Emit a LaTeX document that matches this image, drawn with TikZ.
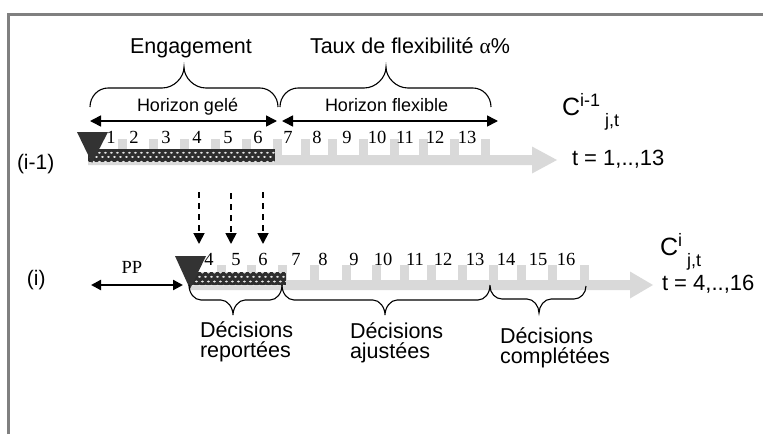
\documentclass[tikz,border=0pt]{standalone}
\usepackage{fontspec}
\setmainfont{Liberation Sans}
\newfontfamily\timesf{Liberation Serif}
\usetikzlibrary{arrows.meta,patterns}
\definecolor{barg}{HTML}{D9D9D9}
\definecolor{trig}{HTML}{333333}
\definecolor{hatchg}{HTML}{2E2E2E}
\definecolor{dotg}{HTML}{E6E6E6}
\definecolor{frameg}{HTML}{808080}
\pgfdeclarepatternformonly{ovaldots}{\pgfpointorigin}{\pgfqpoint{6.4pt}{8.6pt}}{\pgfqpoint{6.4pt}{8.6pt}}{%
  \pgfpathellipse{\pgfqpoint{1.6pt}{2.15pt}}{\pgfqpoint{1.7pt}{0pt}}{\pgfqpoint{0pt}{1.05pt}}%
  \pgfpathellipse{\pgfqpoint{4.8pt}{6.45pt}}{\pgfqpoint{1.7pt}{0pt}}{\pgfqpoint{0pt}{1.05pt}}%
  \pgfusepath{fill}}
\newcommand\mybrace[8]{%
 \draw[bracestyle] (#1,#4) .. controls (#1,{#5+0.45*(#4-#5)}) and ({#1+0.45*#7},#5) .. ({#1+#7},#5)
 -- ({#2-#8},#5) .. controls ({#2-0.45*#8},#5) and (#2,{#5+0.5*(#6-#5)}) .. (#2,#6)
 .. controls (#2,{#5+0.5*(#6-#5)}) and ({#2+0.45*#8},#5) .. ({#2+#8},#5)
 -- ({#3-#7},#5) .. controls ({#3-0.45*#7},#5) and (#3,{#5+0.45*(#4-#5)}) .. (#3,#4);}
\tikzset{
  every node/.style={inner sep=0pt, outer sep=0pt},
  lbl/.style={font=\fontsize{21.5}{20}\selectfont, anchor=base west, align=left},
  hz/.style={font=\fontsize{18}{18}\selectfont, anchor=base west},
  num/.style={font=\timesf\fontsize{18.5}{18}\selectfont, anchor=base},
  rowlbl/.style={font=\fontsize{21}{21}\selectfont, anchor=base west},
  tooth/.style={fill=barg},
  hatch/.style={pattern=ovaldots, pattern color=dotg},
  harrow/.style={line width=1.6pt, {Triangle[length=11pt,width=11pt]}-{Triangle[length=11pt,width=11pt]}},
  pparrow/.style={line width=2.3pt, {Triangle[length=10pt,width=10pt]}-{Triangle[length=10pt,width=10pt]}},
  darrow/.style={line width=1.8pt, dash pattern=on 6pt off 5pt, -{Triangle[length=11pt,width=11pt]}},
  bracestyle/.style={line width=1.1pt},
}
\begin{document}
\begin{tikzpicture}[x=1pt,y=-1pt]
\useasboundingbox (0,0) rectangle (763,434);
% frame
\draw[frameg, line width=3pt] (8.5,434) -- (8.5,14.5) -- (763,14.5);

% ---- timeline (i-1)
\fill[barg] (88,155) -- (532,155) -- (532,146.5) -- (557,160) -- (532,173.5) -- (532,165) -- (88,165) -- cycle;
\foreach \x in {118,149,180,211,242,273,301,328,359,390,419,450,481}
  \fill[tooth] (\x,139) rectangle ++(9,16);
\fill[hatchg] (88,149) rectangle (275,162);
\fill[hatch] (88,149) rectangle (275,162);
\foreach \n/\x in {1/111,2/134,3/166,4/197,5/228,6/258,7/288,8/317,9/347,10/377,11/405,12/435,13/467}
  \node[num] (a\n) at (\x,143) {\n};
\fill[trig] (77,132) -- (108,132) -- (92,163) -- cycle;

% ---- timeline (i)
\fill[barg] (190,280) -- (630,280) -- (630,271.5) -- (653,285) -- (630,298.5) -- (630,290) -- (190,290) -- cycle;
\foreach \x in {217,247,278,310,342,372,400,427,458,489,517,548,580}
  \fill[tooth] (\x,265) rectangle ++(9,15);
\fill[hatchg] (192,272) rectangle (286,285);
\fill[hatch] (192,272) rectangle (286,285);
\foreach \n/\x in {4/209,5/236,6/263,7/296,8/323,9/354,10/383,11/415,12/443,13/475,14/506,15/538,16/566}
  \node[num] (b\n) at (\x,265) {\n};
\fill[trig] (175,256) -- (206,256) -- (190,289) -- cycle;

% ---- horizon arrows
\coordinate (hg1) at (90,121); \coordinate (hg2) at (277,121);
\coordinate (hf1) at (282,121); \coordinate (hf2) at (498,121);
\draw[harrow] (hg1) -- (hg2);
\draw[harrow] (hf1) -- (hf2);

% ---- top braces
\mybrace{90}{184}{278}{107}{88}{67}{18}{22}
\mybrace{280}{386}{491}{107}{88}{67}{18}{22}

% ---- bottom braces
\mybrace{189}{233}{282}{285}{300}{315}{12}{12}
\mybrace{282}{385}{490}{285}{300}{315}{12}{12}
\mybrace{490}{539}{586}{286}{299}{313}{12}{12}

% ---- dashed arrows
\coordinate (d4a) at (199,192); \coordinate (d4b) at (199,244);
\coordinate (d5a) at (231,193); \coordinate (d5b) at (231,244);
\coordinate (d6a) at (263,192); \coordinate (d6b) at (263,244);
\draw[darrow] (d4a) -- (d4b);
\draw[darrow] (d5a) -- (d5b);
\draw[darrow] (d6a) -- (d6b);

% ---- PP arrow
\coordinate (ppa) at (91,285); \coordinate (ppb) at (183,285);
\draw[pparrow] (ppa) -- (ppb);
\node[num] (pp) at (132,273) {PP};

% ---- texts
\node[lbl] (eng) at (130,53) {Engagement};
\node[lbl] (taux) at (310,53) {Taux de flexibilité {\timesf α}\%};
\node[hz] (hgel) at (137,111) {Horizon gelé};
\node[hz] (hflex) at (325,111) {Horizon flexible};
\node[rowlbl] (lim1) at (17,169) {(i-1)};
\node[rowlbl] (li) at (27,285) {(i)};
\node[anchor=base west] (c1) at (562,115) {\fontsize{25}{25}\selectfont C\fontsize{18}{18}\selectfont\raisebox{9pt}{i-1} \raisebox{-11pt}{j,t}};
\node[anchor=base west, font=\fontsize{22}{22}\selectfont] (t1) at (572,165) {t = 1,..,13};
\node[anchor=base west] (c2) at (660,255) {\fontsize{25}{25}\selectfont C\fontsize{18}{18}\selectfont\raisebox{9pt}{i} \raisebox{-11pt}{j,t}};
\node[anchor=base west, font=\fontsize{22}{22}\selectfont] (t2) at (662,290) {t = 4,..,16};
\node[lbl] (drep) at (200,357) {Décisions\\reportées};
\node[lbl] (daj) at (350,358) {Décisions\\ajustées};
\node[lbl] (dcomp) at (500,363) {Décisions\\complétées};
\end{tikzpicture}
\end{document}
